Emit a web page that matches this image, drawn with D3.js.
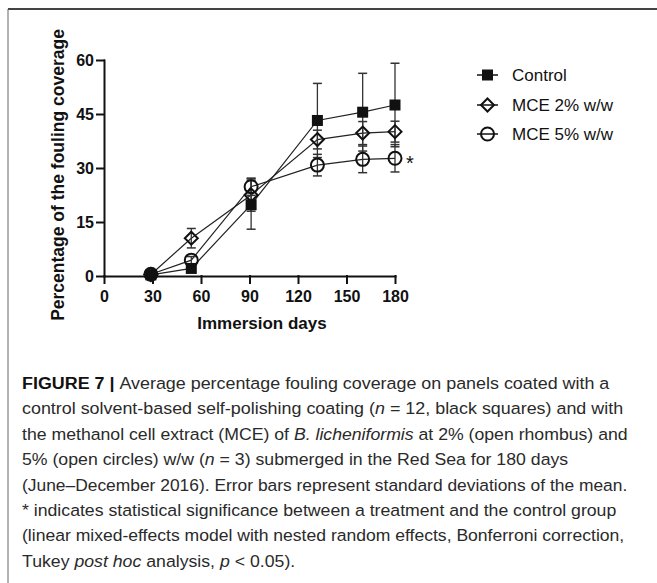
<!DOCTYPE html>
<html>
<head>
<meta charset="utf-8">
<script src="https://cdn.jsdelivr.net/npm/d3@7"></script>
<style>
  body { margin: 0; background: #fff; }
  svg { display: block; }
</style>
</head>
<body>
<script>
// values
const days = [29, 54, 91, 132, 160, 180];
const control = [0.3, 2.1, 19.8, 43.2, 45.5, 47.5];
const controlSd = [0.3, 0.8, 6.8, 10.3, 10.8, 11.6];
const mce2 = [0.4, 10.5, 22.5, 37.9, 39.7, 40.1];
const mce2Sd = [0.3, 2.7, 4.5, 2.6, 3.2, 2.9];
const mce5 = [0.5, 4.4, 24.8, 30.8, 32.4, 32.7];
const mce5Sd = [0.3, 1.0, 2.4, 3.0, 3.7, 3.8];
const seriesNames = ['Control', 'MCE 2% w/w', 'MCE 5% w/w'];
const xTicks = [0, 30, 60, 90, 120, 150, 180];
const yTicks = [0, 15, 30, 45, 60];

const captionLines = [
  [['b', 'FIGURE 7 | '], ['', 'Average percentage fouling coverage on panels coated with a']],
  [['', 'control solvent-based self-polishing coating ('], ['i', 'n'], ['', ' = 12, black squares) and with']],
  [['', 'the methanol cell extract (MCE) of '], ['i', 'B. licheniformis'], ['', ' at 2% (open rhombus) and']],
  [['', '5% (open circles) w/w ('], ['i', 'n'], ['', ' = 3) submerged in the Red Sea for 180 days']],
  [['', '(June\u2013December 2016). Error bars represent standard deviations of the mean.']],
  [['', '* indicates statistical significance between a treatment and the control group']],
  [['', '(linear mixed-effects model with nested random effects, Bonferroni correction,']],
  [['', 'Tukey '], ['i', 'post hoc'], ['', ' analysis, '], ['i', 'p'], ['', ' < 0.05).']]
];
// right ends of the full-width lines (null = ragged line, use mean squeeze)
const captionEnds = [610, 624, 628, null, 628, 617, 625, null];

const W = 657, H = 583;
const svg = d3.select('body').append('svg')
  .attr('width', W)
  .attr('height', H);

// frame (top and left edges)
svg.append('line').attr('x1', 8).attr('y1', 9).attr('x2', W).attr('y2', 9)
  .attr('stroke', '#444').attr('stroke-width', 2);
svg.append('line').attr('x1', 8).attr('y1', 9).attr('x2', 8).attr('y2', H)
  .attr('stroke', '#666').attr('stroke-width', 1);

const x = d3.scaleLinear().domain([0, 180]).range([104, 395]);
const y = d3.scaleLinear().domain([0, 60]).range([276, 60]);

const font = 'Liberation Sans, Arial, sans-serif';

// axes
const xAxis = svg.append('g')
  .attr('transform', `translate(0, ${y(0)})`)
  .call(d3.axisBottom(x).tickValues(xTicks).tickSize(7).tickSizeOuter(0).tickPadding(8));
const yAxis = svg.append('g')
  .attr('transform', `translate(${x(0)}, 0)`)
  .call(d3.axisLeft(y).tickValues(yTicks).tickSize(7).tickSizeOuter(0).tickPadding(3));

[xAxis, yAxis].forEach(g => {
  g.selectAll('path, line').attr('stroke', '#111').attr('stroke-width', 2).attr('stroke-linecap', 'square');
  g.selectAll('text')
    .attr('fill', '#111')
    .style('font-family', font)
    .style('font-weight', 'bold')
    .style('font-size', '16px');
});

// axis titles
svg.append('text')
  .attr('x', 262)
  .attr('y', 329)
  .attr('text-anchor', 'middle')
  .style('font-family', font)
  .style('font-weight', 'bold')
  .style('font-size', '17px')
  .attr('fill', '#111')
  .text('Immersion days');

svg.append('text')
  .attr('transform', 'translate(64, 175) rotate(-90)')
  .attr('text-anchor', 'middle')
  .style('font-family', font)
  .style('font-weight', 'bold')
  .style('font-size', '17.5px')
  .attr('fill', '#111')
  .text('Percentage of the fouling coverage');

const series = [
  { name: seriesNames[0], values: control, sd: controlSd, shape: 'square' },
  { name: seriesNames[1], values: mce2, sd: mce2Sd, shape: 'diamond' },
  { name: seriesNames[2], values: mce5, sd: mce5Sd, shape: 'circle' }
];

function drawMarker(g, shape, cx, cy) {
  if (shape === 'square') {
    g.append('rect').attr('x', cx - 5.5).attr('y', cy - 5.5).attr('width', 11).attr('height', 11)
      .attr('fill', '#111');
  } else if (shape === 'diamond') {
    g.append('path')
      .attr('d', `M${cx},${cy - 6.5}L${cx + 6.5},${cy}L${cx},${cy + 6.5}L${cx - 6.5},${cy}Z`)
      .attr('fill', 'none').attr('stroke', '#111').attr('stroke-width', 2);
  } else {
    g.append('circle').attr('cx', cx).attr('cy', cy).attr('r', 6.5)
      .attr('fill', 'none').attr('stroke', '#111').attr('stroke-width', 2);
  }
}

const line = d3.line().x((d, i) => x(days[i])).y(d => y(d));

// connecting lines
series.forEach(s => {
  svg.append('path')
    .datum(s.values)
    .attr('d', line)
    .attr('fill', 'none')
    .attr('stroke', '#222')
    .attr('stroke-width', 1.2);
});

// error bars
series.forEach(s => {
  const g = svg.append('g');
  s.values.forEach((v, i) => {
    const cx = x(days[i]);
    const top = y(v + s.sd[i]);
    const bot = y(v - s.sd[i]);
    g.append('line').attr('x1', cx).attr('x2', cx).attr('y1', top).attr('y2', bot)
      .attr('stroke', '#333').attr('stroke-width', 1.3);
    [top, bot].forEach(yy => {
      g.append('line').attr('x1', cx - 4.5).attr('x2', cx + 4.5).attr('y1', yy).attr('y2', yy)
        .attr('stroke', '#333').attr('stroke-width', 1.5);
    });
  });
});

// markers
series.forEach(s => {
  const g = svg.append('g');
  s.values.forEach((v, i) => drawMarker(g, s.shape, x(days[i]), y(v)));
});

// significance asterisk
svg.append('text')
  .attr('x', x(days[5]) + 11)
  .attr('y', y(mce5[5]) + 12)
  .style('font-family', font)
  .style('font-size', '20px')
  .attr('fill', '#111')
  .text('*');

// legend
const legendY = [75, 105, 134];
series.forEach((s, i) => {
  const g = svg.append('g');
  g.append('line').attr('x1', 477).attr('x2', 498).attr('y1', legendY[i]).attr('y2', legendY[i])
    .attr('stroke', '#111').attr('stroke-width', 1.5);
  drawMarker(g, s.shape, 487.5, legendY[i]);
  g.append('text')
    .attr('x', 512)
    .attr('y', legendY[i])
    .attr('dy', '0.35em')
    .style('font-family', font)
    .style('font-size', '17px')
    .attr('fill', '#111')
    .text(s.name);
});

// caption
const captionTexts = captionLines.map(parts => {
  const t = svg.append('text')
    .attr('x', 0)
    .attr('y', 0)
    .style('font-family', font)
    .style('font-size', '17px')
    .attr('fill', '#2a2a2a');
  parts.forEach(([style, str]) => {
    const ts = t.append('tspan').text(str);
    if (style === 'b') ts.style('font-weight', 'bold').attr('fill', '#111');
    if (style === 'i') ts.style('font-style', 'italic');
  });
  return t;
});
const squeeze = captionTexts.map((t, i) =>
  captionEnds[i] ? (captionEnds[i] - 22) / t.node().getComputedTextLength() : null);
const meanSqueeze = d3.mean(squeeze.filter(v => v));
captionTexts.forEach((t, i) => {
  const sx = squeeze[i] || meanSqueeze;
  t.attr('transform', `translate(22, ${389 + i * 25.4}) scale(${sx}, 1)`);
});
</script>
</body>
</html>
